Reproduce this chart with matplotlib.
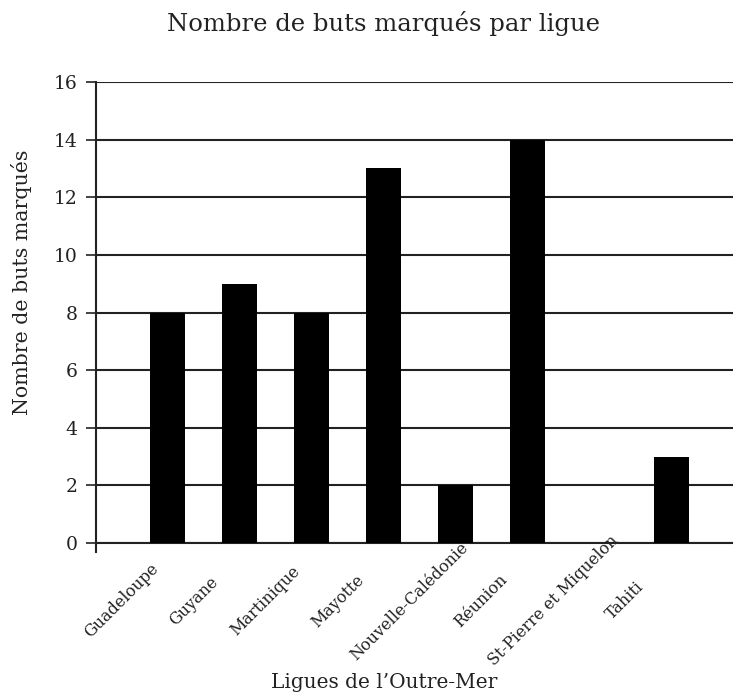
import matplotlib
matplotlib.use("Agg")
import matplotlib.pyplot as plt
from matplotlib.transforms import blended_transform_factory, offset_copy

categories = ["Guadeloupe", "Guyane", "Martinique", "Mayotte",
              "Nouvelle-Calédonie", "Réunion", "St-Pierre et Miquelon", "Tahiti"]
buts = [8, 9, 8, 13, 2, 14, 0, 3]
yticks = [0, 2, 4, 6, 8, 10, 12, 14, 16]

plt.rcParams['font.family'] = ['DejaVu Serif']

W, H = 733, 698
fig = plt.figure(figsize=(W / 100, H / 100), dpi=100)
ax = fig.add_axes([95.7 / W, 1 - 543 / H, (W - 95.7) / W, (543 - 82) / H])

x = list(range(len(categories)))
ax.bar(x, buts, width=0.49, color="black", zorder=3)

ax.set_ylim(0, 16)
ax.set_xlim(-1, 7.86)
ax.set_yticks(yticks)
ax.set_yticklabels([str(v) for v in yticks], fontsize=13.5, color="#222222")
ax.yaxis.grid(True, color="#222222", linewidth=1.5, zorder=1)
ax.tick_params(axis="y", length=7, width=1.2, color="#222222", pad=6)

ax.set_xticks(x)
ax.set_xticklabels([])
ax.tick_params(axis="x", which="major", length=0)
ax.set_xticks([-1], minor=True)
ax.tick_params(axis="x", which="minor", length=7, width=1.5, color="#222222")

# rotated category labels, centred below-left of each bar
trans = blended_transform_factory(ax.transData, fig.transFigure)
trans = offset_copy(trans, fig=fig, x=-46, y=0, units="dots")
for xi, lab in zip(x, categories):
    ax.text(xi, 1 - 601 / H, lab, rotation=45, ha="center", va="center",
            fontsize=11.5, color="#222222", transform=trans, clip_on=False)

for s in ["top", "right"]:
    ax.spines[s].set_visible(False)
for s in ["left", "bottom"]:
    ax.spines[s].set_linewidth(1.5)
    ax.spines[s].set_color("#222222")

fig.text(22 / W, 1 - 282 / H, "Nombre de buts marqués", rotation=90,
         ha="center", va="center", fontsize=14.8, color="#222222")
fig.text(384 / W, 1 - 683 / H, "Ligues de l’Outre-Mer", ha="center", va="center",
         fontsize=14.5, color="#222222")
fig.text(383 / W, 1 - 23 / H, "Nombre de buts marqués par ligue", ha="center",
         va="center", fontsize=17.5, color="#222222")

fig.savefig("out.png", dpi=100)
